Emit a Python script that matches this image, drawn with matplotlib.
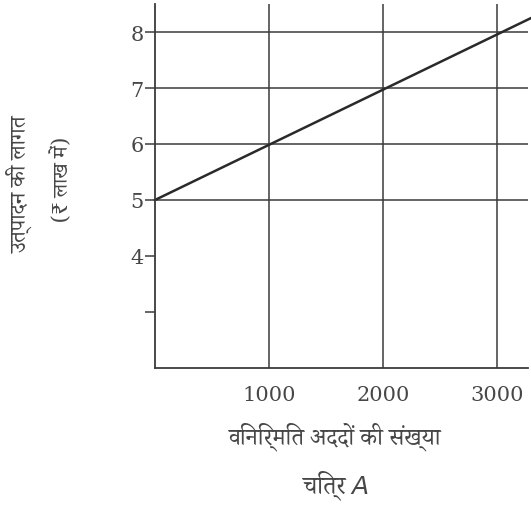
import matplotlib
matplotlib.use("Agg")
import matplotlib.pyplot as plt
import numpy as np

# ---- data ----
units = [0, 3300]          # number of units produced
cost = [5.0, 8.25]         # cost of production (lakh rupees)
x_ticks = [1000, 2000, 3000]
x_labels = ["1000", "2000", "3000"]
y_ticks = [3, 4, 5, 6, 7, 8]
y_labels = ["", "4", "5", "6", "7", "8"]
h_lines = [5, 6, 7, 8]

deva = ["Noto Serif Devanagari", "Tiro Devanagari Hindi", "Noto Sans Devanagari", "DejaVu Serif"]
ink = "#3a3a3a"
txt = "#474747"

fig = plt.figure(figsize=(5.31, 5.06), dpi=100)
ax = fig.add_axes([0.292, 0.271, 0.702, 0.719])

ax.set_xlim(0, 3272)
ax.set_ylim(2, 8.5)

# grid: vertical lines at the x ticks, horizontal at cost levels
for xv in x_ticks:
    ax.axvline(xv, color=ink, lw=1.1)
for yv in h_lines:
    ax.axhline(yv, color=ink, lw=1.1)

ax.plot(units, cost, color="#2a2a2a", lw=1.8, clip_on=False)

for s in ["top", "right"]:
    ax.spines[s].set_visible(False)
for s in ["left", "bottom"]:
    ax.spines[s].set_color(ink)
    ax.spines[s].set_linewidth(1.3)

ax.set_xticks(x_ticks)
ax.set_xticklabels(x_labels, family="DejaVu Serif", fontsize=15, color=txt)
ax.tick_params(axis="x", length=0, pad=12)
ax.set_yticks(y_ticks)
ax.set_yticklabels(y_labels, family="DejaVu Serif", fontsize=15, color=txt)
ax.tick_params(axis="y", length=7, width=1.1, color=ink, pad=1)

fig.text(0.038, 0.636, "उत्पादन की लागत", rotation=90, ha="center", va="center",
         family=deva, fontsize=16, color=txt)
fig.text(0.118, 0.645, "(₹ लाख में)", rotation=90, ha="center", va="center",
         family=deva, fontsize=15, color=txt)
fig.text(0.632, 0.136, "विनिर्मित अददों की संख्या", ha="center", va="center",
         family=deva, fontsize=17, style="italic", color=txt)
fig.text(0.632, 0.040, "चित्र $A$", ha="center", va="center",
         family=deva, fontsize=18, color=txt)

fig.savefig("out.png", dpi=100, facecolor="white")
